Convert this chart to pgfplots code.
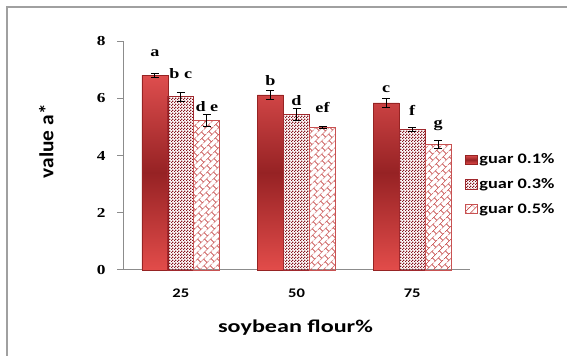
\documentclass[border=0pt]{standalone}
\usepackage{fontspec}
\setmainfont{Liberation Serif}
\newfontfamily\carlito{Carlito}
\usepackage{graphicx}
\usepackage{pgfplots}
\pgfplotsset{compat=1.18}
\usetikzlibrary{patterns,patterns.meta}
\definecolor{redTop}{RGB}{222,78,78}
\definecolor{redMid}{RGB}{150,34,36}
\definecolor{redBot}{RGB}{226,76,74}
\definecolor{redEdge}{RGB}{150,35,35}
\definecolor{checkCol}{RGB}{135,22,32}
\definecolor{checkEdge}{RGB}{160,40,45}
\definecolor{brickCol}{RGB}{200,82,82}
\definecolor{axisGray}{RGB}{140,140,140}
\definecolor{frameGray}{RGB}{160,160,160}
\newcommand{\sx}[1]{\scalebox{1.26}[1]{#1}}

\tikzdeclarepattern{
  name=finecheck,
  type=uncolored,
  bottom left={(0pt,0pt)},
  top right={(2.3pt,2.3pt)},
  tile size={(2.3pt,2.3pt)},
  code={
    \fill (0pt,0pt) rectangle (1.15pt,1.15pt);
    \fill (1.15pt,1.15pt) rectangle (2.3pt,2.3pt);
  }
}
\tikzdeclarepattern{
  name=diagbrick,
  type=uncolored,
  bottom left={(0pt,0pt)},
  top right={(7pt,7pt)},
  tile size={(7pt,7pt)},
  tile transformation={rotate=45},
  code={
    \draw[line width=0.6pt] (-0.2pt,1.75pt) -- (7.2pt,1.75pt);
    \draw[line width=0.6pt] (-0.2pt,5.25pt) -- (7.2pt,5.25pt);
    \draw[line width=0.6pt] (1.75pt,1.75pt) -- (1.75pt,5.25pt);
    \draw[line width=0.6pt] (5.25pt,5.25pt) -- (5.25pt,7.2pt);
    \draw[line width=0.6pt] (5.25pt,-0.2pt) -- (5.25pt,1.75pt);
  }
}

\begin{document}
\begin{tikzpicture}
\useasboundingbox (0pt,0pt) rectangle (425.25pt,267pt);
\draw[frameGray, line width=1.1pt] (5.25pt,-2pt) -- (5.25pt,261.75pt) -- (428pt,261.75pt);
\begin{axis}[
  at={(92.25pt,64.5pt)}, anchor=south west,
  scale only axis, width=260.25pt, height=171.75pt,
  xmin=-0.5, xmax=2.5, ymin=0, ymax=8,
  axis lines*=left,
  axis line style={axisGray, line width=0.75pt},
  xtick={0,1,2},
  xticklabels={\sx{25},\sx{50},\sx{75}},
  x tick label style={font=\carlito\bfseries\fontsize{9.85}{11}\selectfont, yshift=-6pt},
  major x tick style={draw=none},
  ytick={0,2,4,6,8},
  yticklabels={\sx{0},\sx{2},\sx{4},\sx{6},\sx{8}},
  y tick label style={font=\bfseries\fontsize{10.3}{12}\selectfont, xshift=-5pt},
  major y tick style={axisGray, line width=0.75pt},
  tick align=outside, major tick length=4.5pt,
  legend style={at={(0.985,0.515)}, anchor=north west, draw=none, fill=none,
    inner sep=0pt, row sep=7.5pt,
    nodes={inner sep=1pt},
    font=\carlito\bfseries\fontsize{10.9}{13}\selectfont},
  legend cell align=left,
  legend image code/.code={\draw[#1] (0pt,-3.45pt) rectangle (9.2pt,3.45pt);},
  clip=false,
]
\addplot[ybar, bar width=0.225, bar shift=-0.225,
  draw=redEdge, line width=0.4pt,
  top color=redTop, bottom color=redBot, middle color=redMid]
  coordinates {(0,6.80) (1,6.12) (2,5.84)};
\addlegendentry{\sx{guar 0.1\%}}
\addplot[ybar, bar width=0.225, bar shift=0,
  draw=checkEdge, line width=0.6pt,
  pattern=finecheck, pattern color=checkCol]
  coordinates {(0,6.05) (1,5.43) (2,4.92)};
\addlegendentry{\sx{guar 0.3\%}}
\addplot[ybar, bar width=0.225, bar shift=0.225,
  draw=brickCol, line width=0.6pt,
  pattern=diagbrick, pattern color=brickCol]
  coordinates {(0,5.22) (1,4.99) (2,4.38)};
\addlegendentry{\sx{guar 0.5\%}}
% error bars (at the bar centres)
\addplot[forget plot, draw=none, mark=none,
  error bars/.cd, y dir=both, y explicit,
  error bar style={draw=black, line width=0.65pt},
  error mark options={draw=black, line width=0.65pt, mark size=3pt, rotate=90}]
  coordinates {
    (-0.225,6.80) +- (0,0.08) (0.775,6.12) +- (0,0.15) (1.775,5.84) +- (0,0.17)
    (0,6.05) +- (0,0.17) (1,5.43) +- (0,0.22) (2,4.92) +- (0,0.07)
    (0.225,5.22) +- (0,0.20) (1.225,4.99) +- (0,0.03) (2.225,4.38) +- (0,0.15)
  };
\addplot[forget plot, draw=none, mark=none,
  point meta=explicit symbolic,
  nodes near coords={\sx{\pgfplotspointmeta}},
  every node near coord/.append style={anchor=center, inner sep=0pt,
    font=\bfseries\fontsize{10.8}{12}\selectfont}]
  coordinates {
    (-0.225,7.57) [a] (0,6.87) [b c] (0.225,5.72) [d e]
    (0.775,6.63) [b] (1,5.93) [d] (1.225,5.68) [ef]
    (1.775,6.31) [c] (2,5.58) [f] (2.225,5.06) [g]
  };
\end{axis}
\node[anchor=base] at (221.6pt,17.5pt)
  {\carlito\bfseries\fontsize{13.5}{16}\selectfont\scalebox{1.34}[1]{soybean flour\%}};
\node[rotate=90, anchor=base] at (40pt,161.1pt)
  {\carlito\bfseries\fontsize{15}{18}\selectfont\scalebox{1.07}[1]{value a*}};
\end{tikzpicture}
\end{document}
